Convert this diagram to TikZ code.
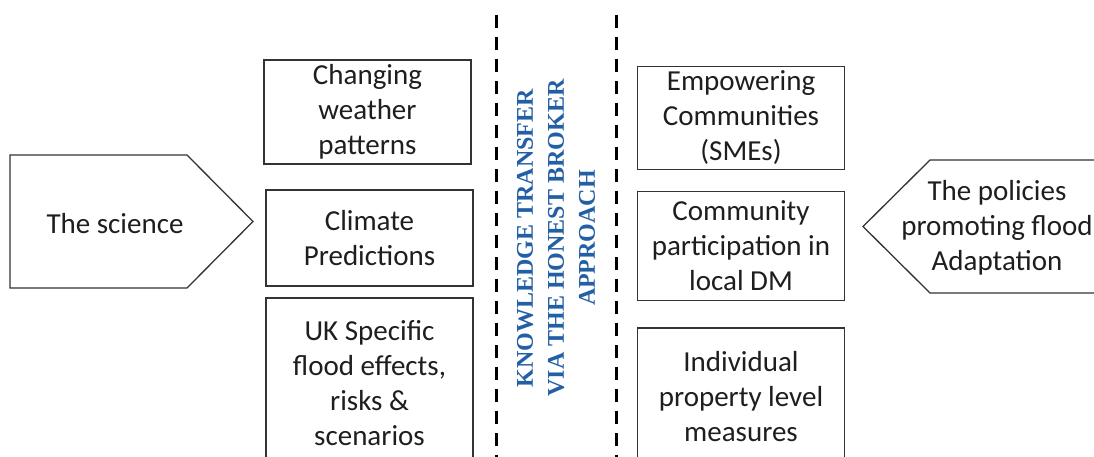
\documentclass[tikz,border=0pt]{standalone}
\usepackage{fontspec}
\setmainfont{Carlito}
\newfontfamily\kfont{Liberation Serif}
\definecolor{kblue}{RGB}{35,95,165}
\definecolor{ink}{RGB}{30,30,30}
\begin{document}
\begin{tikzpicture}[x=1pt,y=-1pt,
  txt/.style={align=center,inner sep=0pt,font=\fontsize{29}{35}\selectfont,text=ink},
  box/.style={txt,draw=black!80,line width=1.3pt,minimum width=207pt},
  outline/.style={draw=black!80,line width=1.3pt,line join=miter},
  sepline/.style={draw=black,line width=3pt,dash pattern=on 13pt off 9pt}]
\useasboundingbox (0,0) rectangle (1094,457);
\clip (0,0) rectangle (1094,457);
% separators
\draw[sepline] (496,15) -- (496,470);
\draw[sepline] (616,15) -- (616,470);
% left arrow
\draw[outline] (10,155) -- (187,155) -- (253,221.5) -- (187,288) -- (10,288) -- cycle;
\node[txt] (sci) at (115,224) {The science};
% right arrow
\draw[outline] (1110,160) -- (930,160) -- (863,226.5) -- (930,293) -- (1110,293);
\node[txt] (pol) at (997,228) {The policies\\promoting flood\\Adaptation};
% left boxes
\node[box,minimum height=104pt] (b1) at (367.5,112) {Changing\\weather\\patterns};
\node[box,minimum height=96pt] (b2) at (369.5,238) {Climate\\Predictions};
\node[box,minimum height=170pt] (b3) at (369.5,383) {UK Specific\\flood effects,\\risks \&\\scenarios};
% right boxes
\node[box,minimum height=103pt] (b4) at (741,118) {Empowering\\Communities\\(SMEs)};
\node[box,minimum height=109pt] (b5) at (741,246) {Community\\participation in\\local DM};
\node[box,minimum height=138pt] (b6) at (741,397) {Individual\\property level\\measures};
% vertical text
\node[rotate=90,align=center,inner sep=0pt,text=kblue,
  font=\kfont\bfseries\fontsize{24}{31}\selectfont] (kt) at (556,238)
  {KNOWLEDGE TRANSFER\\VIA THE HONEST BROKER\\APPROACH};
\end{tikzpicture}
\end{document}
